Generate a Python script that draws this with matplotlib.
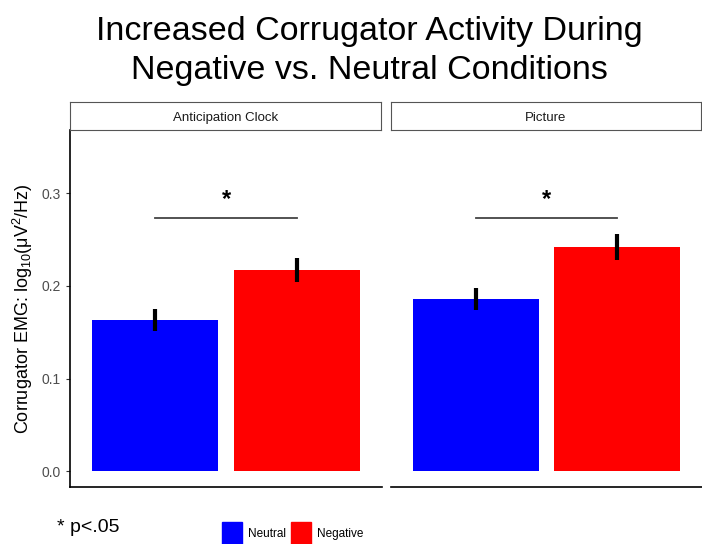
import matplotlib.pyplot as plt
from matplotlib.patches import Rectangle

plt.rcParams['font.family'] = ['Liberation Sans', 'DejaVu Sans']
plt.rcParams['mathtext.fontset'] = 'custom'
plt.rcParams['mathtext.rm'] = 'Liberation Sans'

# donnees
panneaux = ["Anticipation Clock", "Picture"]
conditions = ["Neutral", "Negative"]
moyennes = [[0.163, 0.217], [0.186, 0.242]]
erreurs = [[0.012, 0.013], [0.012, 0.014]]
yticks = [0.0, 0.1, 0.2, 0.3]
couleurs = ["#0000ff", "#ff0000"]
signif_y = 0.273
etoile_y = 0.281

W, H = 702, 544
fig = plt.figure(figsize=(W / 100, H / 100), dpi=100)


def px(x0, y0, x1, y1):
    # boite en pixels (haut-gauche) -> coordonnees figure
    return [x0 / W, 1 - y1 / H, (x1 - x0) / W, (y1 - y0) / H]


boites = [(70, 130, 382, 487), (391, 130, 702, 487)]
for k, nom in enumerate(panneaux):
    b = boites[k]
    ax = fig.add_axes(px(*b))
    x = [1, 2]
    ax.bar(x, moyennes[k], width=0.89, color=couleurs, zorder=2)
    ax.errorbar(x, moyennes[k], yerr=erreurs[k], fmt="none", ecolor="black",
                elinewidth=3, capsize=0, zorder=3)
    ax.plot([1, 2], [signif_y, signif_y], color="#444444", lw=1.3)
    ax.text(1.5, etoile_y, "*", ha="center", va="bottom", fontsize=17, fontweight="bold")
    ax.set_xlim(0.4, 2.6)
    ax.set_ylim(-0.017, 0.368)
    ax.set_xticks([])
    for s in ["top", "right"]:
        ax.spines[s].set_visible(False)
    ax.spines["bottom"].set_linewidth(1.2)
    if k == 0:
        ax.set_yticks(yticks)
        ax.set_yticklabels(["%.1f" % v for v in yticks], color="#4d4d4d", fontsize=10)
        ax.tick_params(axis="y", length=3, color="#333333")
        ax.spines["left"].set_linewidth(1.2)
        ax.set_ylabel("Corrugator EMG: log$\\mathregular{_{10}}$(μV$\\mathregular{^2}$/Hz)",
                      fontsize=13, labelpad=5)
    else:
        ax.set_yticks([])
        ax.spines["left"].set_visible(False)
    # bandeau du facet
    sax = fig.add_axes(px(b[0], 102, b[2] - 1, 130))
    sax.set_xticks([])
    sax.set_yticks([])
    for s in sax.spines.values():
        s.set_color("#555555")
        s.set_linewidth(0.8)
    sax.text(0.5, 0.42, nom, ha="center", va="center", fontsize=9.5, color="#1a1a1a")

fig.text(369 / W, 1 - 51 / H, "Increased Corrugator Activity During\nNegative vs. Neutral Conditions",
         ha="center", va="center", fontsize=24.5, linespacing=1.3)
fig.text(57 / W, 1 - 528 / H, "* p<.05", ha="left", va="center", fontsize=14)

# legende
for i, c in enumerate(conditions):
    x0 = [222, 291][i]
    fig.patches.append(Rectangle((x0 / W, 1 - 544 / H), 20 / W, 22 / H, color=couleurs[i],
                                 transform=fig.transFigure, figure=fig))
    fig.text((x0 + 26) / W, 1 - 534 / H, c, ha="left", va="center", fontsize=8.5)

fig.savefig("out.png", dpi=100)
